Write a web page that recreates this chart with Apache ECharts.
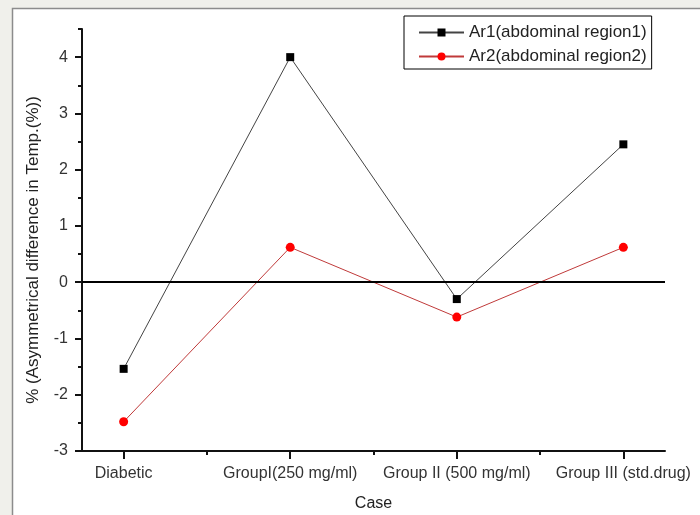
<!DOCTYPE html>
<html>
<head>
<meta charset="utf-8">
<script src="https://cdn.jsdelivr.net/npm/echarts@6/dist/echarts.min.js"></script>
<style>
  html, body { margin: 0; padding: 0; }
  #main { width: 700px; height: 515px; }
</style>
</head>
<body>
<div id="main"></div>
<script>
const categories = ['Diabetic', 'GroupI(250 mg/ml)', 'Group II (500 mg/ml)', 'Group III (std.drug)']
const ar1 = [-1.54, 4.0, -0.3, 2.45]
const ar2 = [-2.48, 0.62, -0.62, 0.62]
const yTicks = [-3, -2, -1, 0, 1, 2, 3, 4]
const yMinorTicks = [-2.5, -1.5, -0.5, 0.5, 1.5, 2.5, 3.5, 4.5]
const xTicks = [1, 2, 3, 4]
const xMinorTicks = [1.5, 2.5, 3.5]

const font = 'Arial, "Liberation Sans", sans-serif'
const toPoints = arr => arr.map((v, i) => [i + 1, v])

const chart = echarts.init(document.getElementById('main'))
chart.setOption({
  backgroundColor: '#f0f0eb',
  textStyle: { fontFamily: font },
  graphic: [
    {
      type: 'rect',
      z: -10,
      shape: { x: 12.5, y: 8.5, width: 720, height: 540 },
      style: { fill: '#fff', stroke: '#8c8c8c', lineWidth: 1.5 }
    }
  ],
  legend: {
    orient: 'vertical',
    left: 404,
    top: 16,
    itemWidth: 45,
    itemHeight: 10,
    itemGap: 7,
    padding: [8, 5, 4, 14],
    borderColor: '#000',
    borderWidth: 1,
    textStyle: { fontSize: 17, color: '#222', fontFamily: font },
    data: ['Ar1(abdominal region1)', 'Ar2(abdominal region2)']
  },
  grid: [
    { left: 82, right: 35, top: 29, bottom: 64, outerBoundsMode: 'none' },
    { left: 82, right: 35, top: 29, bottom: 64, outerBoundsMode: 'none' }
  ],
  xAxis: [
    {
      type: 'value',
      gridIndex: 0,
      min: 0.75,
      max: 4.25,
      name: 'Case',
      nameLocation: 'middle',
      nameGap: 45,
      nameTextStyle: { fontSize: 16, color: '#222' },
      axisLine: { onZero: false, lineStyle: { color: '#111', width: 2 } },
      axisTick: { customValues: xTicks, length: 8, lineStyle: { color: '#111', width: 2 } },
      axisLabel: {
        customValues: xTicks,
        margin: 15,
        fontSize: 16,
        color: '#333',
        formatter: v => categories[Math.round(v) - 1]
      },
      splitLine: { show: false }
    },
    {
      type: 'value',
      gridIndex: 1,
      min: 0.75,
      max: 4.25,
      axisLine: { show: false, onZero: false },
      axisTick: { customValues: xMinorTicks, length: 4, lineStyle: { color: '#111', width: 2 } },
      axisLabel: { show: false },
      splitLine: { show: false }
    }
  ],
  yAxis: [
    {
      type: 'value',
      gridIndex: 0,
      min: -3,
      max: 4.5,
      interval: 1,
      name: '% (Asymmetrical difference in Temp.(%))',
      nameLocation: 'middle',
      nameGap: 40,
      nameTextStyle: { fontSize: 17, color: '#222', padding: [0, 20, 0, 0] },
      axisLine: { show: true, onZero: false, lineStyle: { color: '#111', width: 2 } },
      axisTick: { show: true, customValues: yTicks, length: 7, lineStyle: { color: '#111', width: 2 } },
      axisLabel: { customValues: yTicks, margin: 14, fontSize: 16, color: '#333' },
      splitLine: { show: false }
    },
    {
      type: 'value',
      gridIndex: 1,
      min: -3,
      max: 4.5,
      interval: 1,
      axisLine: { show: false, onZero: false },
      axisTick: { show: true, customValues: yMinorTicks, length: 4, lineStyle: { color: '#111', width: 2 } },
      axisLabel: { show: false },
      splitLine: { show: false }
    }
  ],
  series: [
    {
      name: 'Ar1(abdominal region1)',
      type: 'line',
      xAxisIndex: 0,
      yAxisIndex: 0,
      data: toPoints(ar1),
      symbol: 'rect',
      symbolSize: 8,
      itemStyle: { color: '#000' },
      lineStyle: { color: '#444', width: 1 },
      markLine: {
        silent: true,
        symbol: 'none',
        label: { show: false },
        lineStyle: { color: '#000', width: 2, type: 'solid' },
        data: [{ yAxis: 0 }]
      },
      z: 3
    },
    {
      name: 'Ar2(abdominal region2)',
      type: 'line',
      xAxisIndex: 0,
      yAxisIndex: 0,
      data: toPoints(ar2),
      symbol: 'circle',
      symbolSize: 9,
      itemStyle: { color: '#ff0000' },
      lineStyle: { color: '#c03a3a', width: 1 },
      z: 3
    }
  ]
})
</script>
</body>
</html>
